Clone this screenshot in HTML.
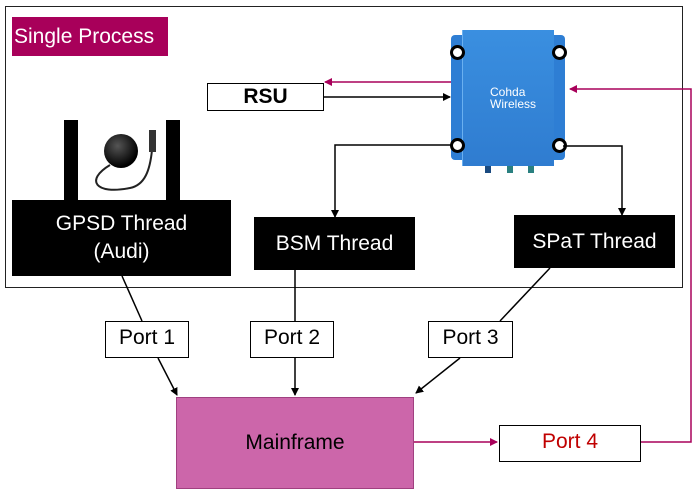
<!DOCTYPE html>
<html><head><style>
body{margin:0;width:698px;height:499px;background:#fff;font-family:"Liberation Sans",sans-serif;position:relative;overflow:hidden}
.a{position:absolute;box-sizing:border-box;display:flex;align-items:center;justify-content:center;text-align:center}
.blk{background:#000;color:#fff;font-size:21px}
.port{background:#fff;border:1.5px solid #000;font-size:21px;padding-bottom:3px}
.h{position:absolute;width:9px;height:9px;border-radius:50%;background:#fff;border:3px solid #000}
</style></head><body>
<div class="a" style="left:5px;top:6px;width:678px;height:282px;border:1.5px solid #222"></div>
<div class="a" style="left:12px;top:17px;width:156px;height:39px;background:#a8005a;color:#fff;font-size:21px;justify-content:flex-start;padding-left:2px">Single Process</div>
<div class="a port" style="left:207px;top:83px;width:117px;height:28px;font-weight:bold;font-size:21px;padding:0">RSU</div>
<div class="a" style="left:64px;top:120px;width:14px;height:82px;background:#000"></div>
<div class="a" style="left:166px;top:120px;width:14px;height:82px;background:#000"></div>
<div style="position:absolute;left:104px;top:134px;width:34px;height:34px;border-radius:50%;background:radial-gradient(circle at 40% 35%,#555,#000 70%)"></div>
<svg width="698" height="499" style="position:absolute;left:0;top:0"><path d="M110,165C85,180 95,195 130,188C145,185 150,170 152,150" fill="none" stroke="#222" stroke-width="2"/><rect x="149" y="130" width="7" height="22" fill="#333"/></svg>
<div class="a blk" style="left:12px;top:200px;width:219px;height:76px;line-height:28px;flex-direction:column">GPSD Thread<br>(Audi)</div>
<div class="a blk" style="left:254px;top:217px;width:161px;height:53px">BSM Thread</div>
<div class="a blk" style="left:514px;top:215px;width:161px;height:53px">SPaT Thread</div>
<div style="position:absolute;left:451px;top:35px;width:114px;height:125px;background:#2e7ed4;border-radius:4px"></div>
<div style="position:absolute;left:462px;top:30px;width:91px;height:136px;background:linear-gradient(#3a8fe0,#2f7cd0);border-left:1px solid #6ab0f0"></div>
<div class="h" style="left:450px;top:45px"></div><div class="h" style="left:552px;top:45px"></div>
<div class="h" style="left:450px;top:138px"></div><div class="h" style="left:552px;top:138px"></div>
<div style="position:absolute;left:485px;top:166px;width:6px;height:7px;background:#1a4a80"></div>
<div style="position:absolute;left:507px;top:166px;width:6px;height:7px;background:#2a8080"></div>
<div style="position:absolute;left:528px;top:166px;width:6px;height:7px;background:#2a8080"></div>
<div style="position:absolute;left:490px;top:86px;color:#fff;font-size:12px;line-height:12px;text-align:left">Cohda<br>Wireless</div>
<div class="a port" style="left:105px;top:321px;width:84px;height:37px">Port 1</div>
<div class="a port" style="left:250px;top:321px;width:84px;height:37px">Port 2</div>
<div class="a port" style="left:428px;top:321px;width:85px;height:37px">Port 3</div>
<div class="a port" style="left:499px;top:425px;width:142px;height:37px;color:#c00000">Port 4</div>
<div class="a" style="left:176px;top:397px;width:238px;height:92px;background:#cc66aa;border:1px solid #a04080;font-size:21px">Mainframe</div>
<svg width="698" height="499" style="position:absolute;left:0;top:0">
<defs>
<marker id="k" markerWidth="8" markerHeight="8" refX="7" refY="4" orient="auto" markerUnits="userSpaceOnUse"><path d="M0,0L8,4L0,8z" fill="#000"/></marker>
<marker id="m" markerWidth="8" markerHeight="8" refX="7" refY="4" orient="auto" markerUnits="userSpaceOnUse"><path d="M0,0L8,4L0,8z" fill="#a8005a"/></marker>
</defs>
<g fill="none" stroke-width="1.5">
<path d="M451,82H325" stroke="#a8005a" marker-end="url(#m)"/>
<path d="M324,97H450" stroke="#000" marker-end="url(#k)"/>
<path d="M451,145H335V217" stroke="#000" marker-end="url(#k)"/>
<path d="M563,146H622V215" stroke="#000" marker-end="url(#k)"/>
<path d="M641,442H691V89H570" stroke="#a8005a" marker-end="url(#m)"/>
<path d="M414,442H497" stroke="#a8005a" marker-end="url(#m)"/>
<path d="M122,276L142,321" stroke="#000"/>
<path d="M158,358L177,395" stroke="#000" marker-end="url(#k)"/>
<path d="M295,270V321" stroke="#000"/>
<path d="M295,358V395" stroke="#000" marker-end="url(#k)"/>
<path d="M550,268L500,321" stroke="#000"/>
<path d="M460,358L416,393" stroke="#000" marker-end="url(#k)"/>
</g></svg>
</body></html>
